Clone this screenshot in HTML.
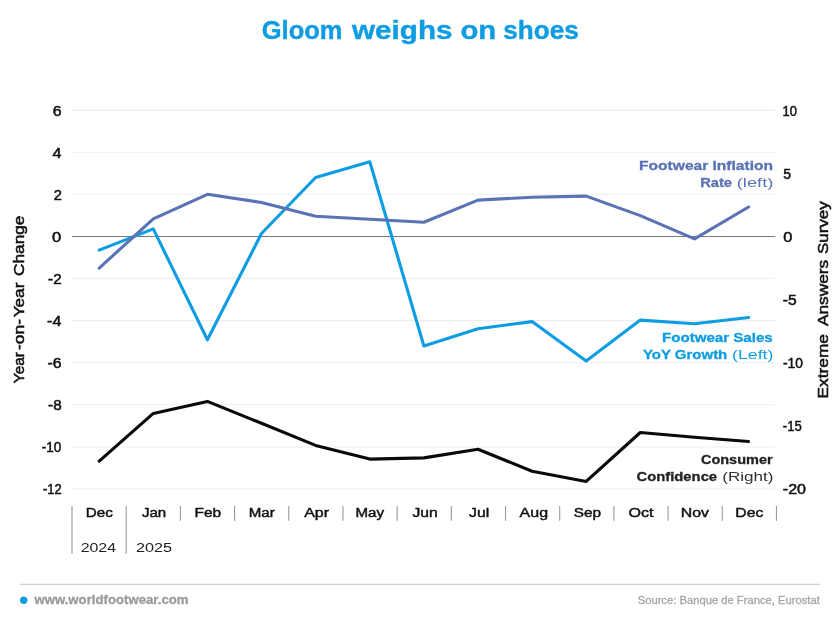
<!DOCTYPE html>
<html><head><meta charset="utf-8"><title>Gloom weighs on shoes</title>
<style>html,body{margin:0;padding:0;background:#fff}svg{display:block;font-family:'Liberation Sans', sans-serif}</style></head>
<body><svg width="840" height="624" viewBox="0 0 840 624">
<rect width="840" height="624" fill="#fff"/>
<line x1="72" x2="775.3" y1="110.10" y2="110.10" stroke="#ededed" stroke-width="1.05"/>
<line x1="72" x2="775.3" y1="152.20" y2="152.20" stroke="#ededed" stroke-width="1.05"/>
<line x1="72" x2="775.3" y1="194.30" y2="194.30" stroke="#ededed" stroke-width="1.05"/>
<line x1="72" x2="775.3" y1="278.50" y2="278.50" stroke="#ededed" stroke-width="1.05"/>
<line x1="72" x2="775.3" y1="320.60" y2="320.60" stroke="#ededed" stroke-width="1.05"/>
<line x1="72" x2="775.3" y1="362.70" y2="362.70" stroke="#ededed" stroke-width="1.05"/>
<line x1="72" x2="775.3" y1="404.80" y2="404.80" stroke="#ededed" stroke-width="1.05"/>
<line x1="72" x2="775.3" y1="446.90" y2="446.90" stroke="#ededed" stroke-width="1.05"/>
<line x1="72" x2="775.3" y1="489.00" y2="489.00" stroke="#ededed" stroke-width="1.05"/>
<line x1="72" x2="775.3" y1="236.5" y2="236.5" stroke="#7a7a7a" stroke-width="1"/>
<line x1="72.00" x2="72.00" y1="506" y2="553.8" stroke="#9a9a9a" stroke-width="1.1"/>
<line x1="126.19" x2="126.19" y1="506" y2="553.8" stroke="#9a9a9a" stroke-width="1.1"/>
<line x1="180.38" x2="180.38" y1="506" y2="520.8" stroke="#9a9a9a" stroke-width="1.1"/>
<line x1="234.57" x2="234.57" y1="506" y2="520.8" stroke="#9a9a9a" stroke-width="1.1"/>
<line x1="288.76" x2="288.76" y1="506" y2="520.8" stroke="#9a9a9a" stroke-width="1.1"/>
<line x1="342.95" x2="342.95" y1="506" y2="520.8" stroke="#9a9a9a" stroke-width="1.1"/>
<line x1="397.14" x2="397.14" y1="506" y2="520.8" stroke="#9a9a9a" stroke-width="1.1"/>
<line x1="451.33" x2="451.33" y1="506" y2="520.8" stroke="#9a9a9a" stroke-width="1.1"/>
<line x1="505.52" x2="505.52" y1="506" y2="520.8" stroke="#9a9a9a" stroke-width="1.1"/>
<line x1="559.71" x2="559.71" y1="506" y2="520.8" stroke="#9a9a9a" stroke-width="1.1"/>
<line x1="613.90" x2="613.90" y1="506" y2="520.8" stroke="#9a9a9a" stroke-width="1.1"/>
<line x1="668.09" x2="668.09" y1="506" y2="520.8" stroke="#9a9a9a" stroke-width="1.1"/>
<line x1="722.28" x2="722.28" y1="506" y2="520.8" stroke="#9a9a9a" stroke-width="1.1"/>
<line x1="776.47" x2="776.47" y1="506" y2="520.8" stroke="#9a9a9a" stroke-width="1.1"/>
<polyline points="99.2,461.1 153.3,413.4 207.4,401.4 261.5,423.3 315.6,445.4 369.8,459.1 423.9,457.9 478.0,449.2 532.1,471.2 586.2,481.4 640.3,432.5 694.5,437.2 748.6,441.5" fill="none" stroke="#0a0a0a" stroke-width="3.1" stroke-linecap="round" stroke-linejoin="round"/>
<polyline points="99.2,250.1 153.3,228.9 207.4,339.8 261.5,233.5 315.6,177.5 369.8,161.8 423.9,346.0 478.0,328.8 532.1,321.6 586.2,361.0 640.3,320.1 694.5,323.8 748.6,317.5" fill="none" stroke="#0e9ce2" stroke-width="3.1" stroke-linecap="round" stroke-linejoin="round"/>
<polyline points="99.2,268.1 153.3,218.8 207.4,194.3 261.5,202.5 315.6,216.2 369.8,219.3 423.9,222.2 478.0,200.1 532.1,197.2 586.2,196.1 640.3,215.6 694.5,238.9 748.6,207.0" fill="none" stroke="#5a73b5" stroke-width="3.1" stroke-linecap="round" stroke-linejoin="round"/>
<line x1="20" x2="820" y1="584.3" y2="584.3" stroke="#cfcfcf" stroke-width="1.2"/>
<circle cx="23.7" cy="600.3" r="3.7" fill="#0e9ce2"/>
<text transform="translate(261.71,38.70) scale(1.0200,1)" font-size="25" font-weight="bold" fill="#0e9ce2" stroke="#0e9ce2" stroke-width="0.4">Gloom</text>
<text transform="translate(352.10,38.70) scale(1.1844,1)" font-size="25" font-weight="bold" fill="#0e9ce2" stroke="#0e9ce2" stroke-width="0.4">weighs</text>
<text transform="translate(460.42,38.70) scale(1.1709,1)" font-size="25" font-weight="bold" fill="#0e9ce2" stroke="#0e9ce2" stroke-width="0.4">on</text>
<text transform="translate(503.29,38.70) scale(1.0443,1)" font-size="25" font-weight="bold" fill="#0e9ce2" stroke="#0e9ce2" stroke-width="0.4">shoes</text>
<text transform="translate(52.84,116.00) scale(1.1327,1)" font-size="14" fill="#111" stroke="#111" stroke-width="0.5">6</text>
<text transform="translate(52.44,158.00) scale(1.1530,1)" font-size="14" fill="#111" stroke="#111" stroke-width="0.5">4</text>
<text transform="translate(53.67,200.00) scale(1.0478,1)" font-size="14" fill="#111" stroke="#111" stroke-width="0.5">2</text>
<text transform="translate(52.08,242.00) scale(1.1867,1)" font-size="14" fill="#111" stroke="#111" stroke-width="0.5">0</text>
<text transform="translate(48.10,284.00) scale(1.0885,1)" font-size="14" fill="#111" stroke="#111" stroke-width="0.5">-2</text>
<text transform="translate(47.09,326.00) scale(1.1429,1)" font-size="14" fill="#111" stroke="#111" stroke-width="0.5">-4</text>
<text transform="translate(47.49,368.00) scale(1.1303,1)" font-size="14" fill="#111" stroke="#111" stroke-width="0.5">-6</text>
<text transform="translate(48.10,410.00) scale(1.0885,1)" font-size="14" fill="#111" stroke="#111" stroke-width="0.5">-8</text>
<text transform="translate(41.72,452.00) scale(0.9675,1)" font-size="14" fill="#111" stroke="#111" stroke-width="0.5">-10</text>
<text transform="translate(42.93,494.00) scale(0.9225,1)" font-size="14" fill="#111" stroke="#111" stroke-width="0.5">-12</text>
<text transform="translate(782.52,116.00) scale(0.9294,1)" font-size="14" fill="#111" stroke="#111" stroke-width="0.5">10</text>
<text transform="translate(783.31,179.00) scale(1.0026,1)" font-size="14" fill="#111" stroke="#111" stroke-width="0.5">5</text>
<text transform="translate(783.28,242.00) scale(1.1733,1)" font-size="14" fill="#111" stroke="#111" stroke-width="0.5">0</text>
<text transform="translate(782.79,305.00) scale(1.1136,1)" font-size="14" fill="#111" stroke="#111" stroke-width="0.5">-5</text>
<text transform="translate(783.01,368.00) scale(0.9876,1)" font-size="14" fill="#111" stroke="#111" stroke-width="0.5">-10</text>
<text transform="translate(782.82,431.00) scale(0.9377,1)" font-size="14" fill="#111" stroke="#111" stroke-width="0.5">-15</text>
<text transform="translate(782.78,494.00) scale(1.1480,1)" font-size="14" fill="#111" stroke="#111" stroke-width="0.5">-20</text>
<text transform="translate(85.87,517.00) scale(1.1254,1)" font-size="13.5" fill="#111" stroke="#111" stroke-width="0.45">Dec</text>
<text transform="translate(141.92,517.00) scale(1.1154,1)" font-size="13.5" fill="#111" stroke="#111" stroke-width="0.45">Jan</text>
<text transform="translate(194.45,517.00) scale(1.1442,1)" font-size="13.5" fill="#111" stroke="#111" stroke-width="0.45">Feb</text>
<text transform="translate(248.77,517.00) scale(1.1205,1)" font-size="13.5" fill="#111" stroke="#111" stroke-width="0.45">Mar</text>
<text transform="translate(304.17,517.00) scale(1.1827,1)" font-size="13.5" fill="#111" stroke="#111" stroke-width="0.45">Apr</text>
<text transform="translate(355.47,517.00) scale(1.1205,1)" font-size="13.5" fill="#111" stroke="#111" stroke-width="0.45">May</text>
<text transform="translate(412.42,517.00) scale(1.1625,1)" font-size="13.5" fill="#111" stroke="#111" stroke-width="0.45">Jun</text>
<text transform="translate(469.02,517.00) scale(1.1742,1)" font-size="13.5" fill="#111" stroke="#111" stroke-width="0.45">Jul</text>
<text transform="translate(519.57,517.00) scale(1.1850,1)" font-size="13.5" fill="#111" stroke="#111" stroke-width="0.45">Aug</text>
<text transform="translate(573.68,517.00) scale(1.1361,1)" font-size="13.5" fill="#111" stroke="#111" stroke-width="0.45">Sep</text>
<text transform="translate(628.41,517.00) scale(1.1934,1)" font-size="13.5" fill="#111" stroke="#111" stroke-width="0.45">Oct</text>
<text transform="translate(680.83,517.00) scale(1.1751,1)" font-size="13.5" fill="#111" stroke="#111" stroke-width="0.45">Nov</text>
<text transform="translate(735.33,517.00) scale(1.1642,1)" font-size="13.5" fill="#111" stroke="#111" stroke-width="0.45">Dec</text>
<text transform="translate(80.65,552.00) scale(1.2256,1)" font-size="13" fill="#222">2024</text>
<text transform="translate(135.94,552.00) scale(1.2489,1)" font-size="13" fill="#222">2025</text>
<text transform="translate(639.11,169.80) scale(1.1968,1)" font-size="13" font-weight="bold" fill="#5a73b5" stroke="#5a73b5" stroke-width="0.3">Footwear Inflation</text>
<text transform="translate(700.15,186.80) scale(1.1338,1)" font-size="13" font-weight="bold" fill="#5a73b5" stroke="#5a73b5" stroke-width="0.3">Rate</text>
<text transform="translate(736.74,186.80) scale(1.4119,1)" font-size="13" fill="#5a73b5">(left)</text>
<text transform="translate(662.03,342.00) scale(1.1619,1)" font-size="13" font-weight="bold" fill="#0e9ce2" stroke="#0e9ce2" stroke-width="0.3">Footwear Sales</text>
<text transform="translate(642.94,358.80) scale(1.1538,1)" font-size="13" font-weight="bold" fill="#0e9ce2" stroke="#0e9ce2" stroke-width="0.3">YoY Growth</text>
<text transform="translate(732.07,358.80) scale(1.3627,1)" font-size="13" fill="#0e9ce2">(Left)</text>
<text transform="translate(700.91,464.00) scale(1.1156,1)" font-size="13" font-weight="bold" fill="#222" stroke="#222" stroke-width="0.3">Consumer</text>
<text transform="translate(636.51,481.40) scale(1.1400,1)" font-size="13" font-weight="bold" fill="#222" stroke="#222" stroke-width="0.3">Confidence</text>
<text transform="translate(722.20,481.40) scale(1.3148,1)" font-size="13" fill="#333">(Right)</text>
<text transform="translate(34.41,603.80) scale(1.0558,1)" font-size="12.5" font-weight="bold" fill="#9b9b9b" stroke="#9b9b9b" stroke-width="0.3">www.worldfootwear.com</text>
<text transform="translate(637.68,604.00) scale(1.0692,1)" font-size="10.5" fill="#a6a6a6" stroke="#a6a6a6" stroke-width="0.3">Source: Banque de France, Eurostat</text>
<text transform="translate(23.80,383.17) rotate(-90) scale(0.9889,1)" font-size="15.5" fill="#111" stroke="#111" stroke-width="0.55">Year</text><text transform="translate(23.80,349.94) rotate(-90) scale(1.1267,1)" font-size="15.5" fill="#111" stroke="#111" stroke-width="0.55">-on-</text><text transform="translate(23.80,317.36) rotate(-90) scale(1.1094,1)" font-size="15.5" fill="#111" stroke="#111" stroke-width="0.55">Year</text>
<text transform="translate(23.80,276.00) rotate(-90) scale(1.1142,1)" font-size="15.5" fill="#111" stroke="#111" stroke-width="0.55">Change</text>
<text transform="translate(827.50,398.45) rotate(-90) scale(1.1166,1)" font-size="15.5" fill="#111" stroke="#111" stroke-width="0.55">Extreme</text>
<text transform="translate(827.50,326.09) rotate(-90) scale(1.1176,1)" font-size="15.5" fill="#111" stroke="#111" stroke-width="0.55">Answers</text>
<text transform="translate(827.50,254.03) rotate(-90) scale(1.0951,1)" font-size="15.5" fill="#111" stroke="#111" stroke-width="0.55">Survey</text>
</svg></body></html>
